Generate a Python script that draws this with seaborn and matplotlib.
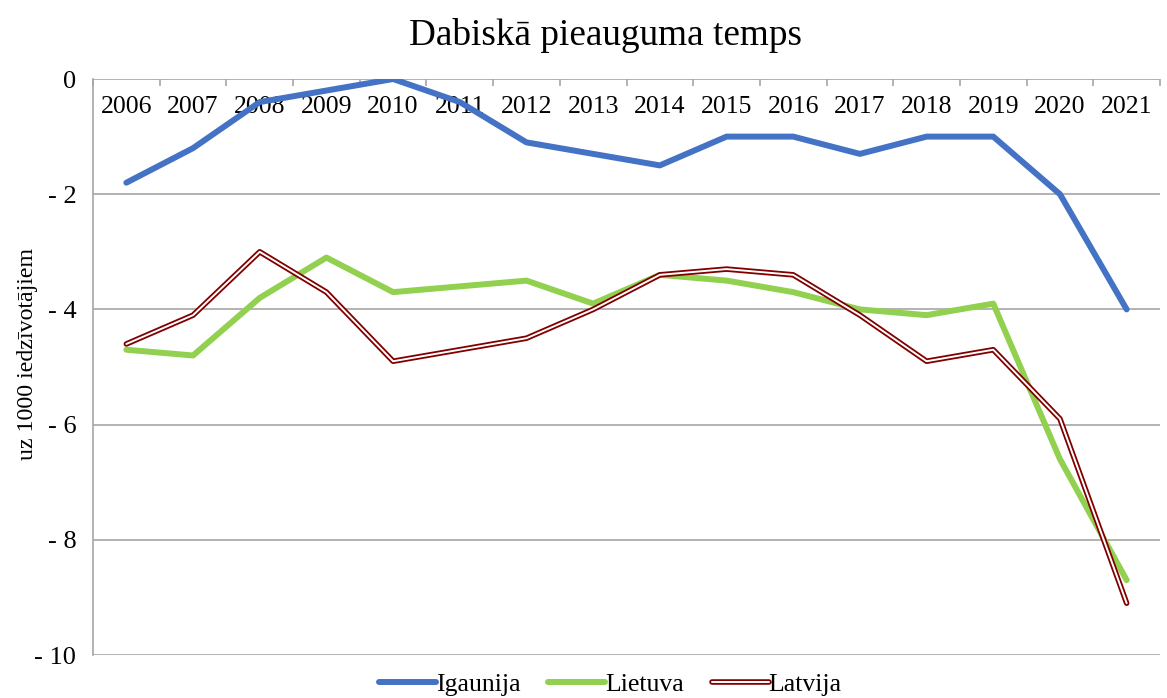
import matplotlib
matplotlib.use("Agg")
import matplotlib.pyplot as plt
import matplotlib.patheffects as pe
import pandas as pd
import seaborn as sns

# Data (per 1000 inhabitants)
years = [str(y) for y in range(2006, 2022)]
igaunija = [-1.8, -1.2, -0.4, -0.2, 0.0, -0.4, -1.1, -1.3, -1.5, -1.0, -1.0, -1.3, -1.0, -1.0, -2.0, -4.0]
lietuva = [-4.7, -4.8, -3.8, -3.1, -3.7, -3.6, -3.5, -3.9, -3.4, -3.5, -3.7, -4.0, -4.1, -3.9, -6.6, -8.7]
latvija = [-4.6, -4.1, -3.0, -3.7, -4.9, -4.7, -4.5, -4.0, -3.4, -3.3, -3.4, -4.1, -4.9, -4.7, -5.9, -9.1]
y_ticks = [0, -2, -4, -6, -8, -10]
y_labels = ["0", "- 2", "- 4", "- 6", "- 8", "- 10"]

df = pd.DataFrame({"year": years * 3,
                   "value": igaunija + lietuva + latvija,
                   "country": ["Igaunija"] * 16 + ["Lietuva"] * 16 + ["Latvija"] * 16})

sns.set_style("white")
plt.rcParams['font.family'] = ['Liberation Serif', 'DejaVu Serif']
plt.rcParams['text.color'] = 'black'
plt.rcParams['axes.labelcolor'] = 'black'
plt.rcParams['xtick.color'] = 'black'
plt.rcParams['ytick.color'] = 'black'

fig = plt.figure(figsize=(11.67, 6.98), dpi=100)
ax = fig.add_axes([0.0797, 0.0616, 0.9143, 0.8252])

sns.lineplot(data=df[df.country == "Igaunija"], x="year", y="value", ax=ax,
             color="#4472C4", linewidth=4.3, label="Igaunija", solid_capstyle="round")
sns.lineplot(data=df[df.country == "Lietuva"], x="year", y="value", ax=ax,
             color="#92D050", linewidth=4.3, label="Lietuva", solid_capstyle="round")
# Latvija is a double line: dark red outline with a white core
sns.lineplot(data=df[df.country == "Latvija"], x="year", y="value", ax=ax,
             color="white", linewidth=1.4, label="Latvija",
             path_effects=[pe.Stroke(linewidth=4.0, foreground="#800000"), pe.Normal()])

ax.set_xlim(-0.5, 15.5)
ax.set_ylim(-10, 0)
ax.set_yticks(y_ticks)
ax.set_yticklabels(y_labels)
ax.yaxis.grid(True, color="#A6A6A6", linewidth=1.2)
ax.set_axisbelow(True)

for s in ["right", "bottom", "top"]:
    ax.spines[s].set_visible(False)
ax.spines["left"].set_color("#A6A6A6")
ax.spines["left"].set_linewidth(1.2)

ax.tick_params(axis="y", length=5, color="#A6A6A6", labelcolor="black", width=1.2,
               labelsize=19, pad=7)

# year labels sit inside the plot just under the zero line
ax.xaxis.set_ticks_position("top")
ax.set_xticks(range(len(years)))
ax.set_xticklabels(years)
ax.set_xticks([i - 0.5 for i in range(len(years) + 1)], minor=True)
ax.tick_params(axis="x", which="major", length=0, labelsize=18.5, pad=-28,
               labeltop=True, labelbottom=False)
ax.tick_params(axis="x", which="minor", direction="in", length=5,
               color="#A6A6A6", width=1.2, top=True, bottom=False)

ax.set_xlabel("")
ax.set_ylabel("uz 1000 iedzīvotājiem", fontsize=17.2)
ax.yaxis.set_label_coords(-0.0515, 0.523)
fig.suptitle("Dabiskā pieauguma temps", fontsize=26.8, x=0.519, y=0.9735)

ax.legend(loc="lower center", bbox_to_anchor=(0.523, -0.012), bbox_transform=fig.transFigure,
          ncol=3, frameon=False, fontsize=18.5, handlelength=2.2, handletextpad=0.0,
          columnspacing=1.1, borderaxespad=0)

fig.savefig("out.png", dpi=100)
